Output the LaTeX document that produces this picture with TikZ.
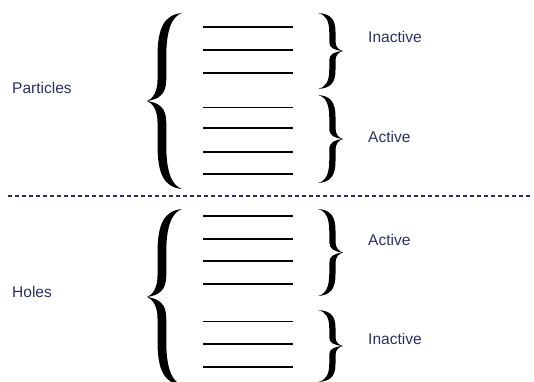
\documentclass[tikz,border=0pt]{standalone}
\usepackage{fontspec}
\setmainfont{Liberation Sans}
\definecolor{navy}{RGB}{40,50,98}
\newcommand\mybrace[4]{%
  \begin{scope}[shift={(#1,#2)},xscale=#3,yscale=#4]
  \fill (1,0) .. controls (0.5,0.01) and (0.3,0.08) .. (0.3,0.25) -- (0.3,0.38)
     .. controls (0.3,0.45) and (0.15,0.49) .. (0,0.5)
     .. controls (0.15,0.51) and (0.3,0.55) .. (0.3,0.62) -- (0.3,0.75)
     .. controls (0.3,0.92) and (0.5,0.99) .. (1,1)
     .. controls (0.7,0.98) and (0.55,0.9) .. (0.55,0.75) -- (0.55,0.62)
     .. controls (0.55,0.54) and (0.35,0.51) .. (0,0.5)
     .. controls (0.35,0.49) and (0.55,0.46) .. (0.55,0.38) -- (0.55,0.25)
     .. controls (0.55,0.1) and (0.7,0.02) .. (1,0) -- cycle;
  \end{scope}}
\tikzset{
  lvl/.style={line width=1.7pt},
  thinlvl/.style={line width=1pt},
  lab/.style={text=navy, font=\fontsize{15.5}{18}\selectfont, anchor=west, inner sep=0pt}
}
\begin{document}
\begin{tikzpicture}[x=1pt,y=-1pt]
\useasboundingbox (0,0) rectangle (534,381);
% big left braces
\mybrace{147}{13}{35}{176}
\mybrace{147}{209}{35}{176}
% right braces
\mybrace{343}{13}{-25}{76}
\mybrace{343}{95}{-25}{88}
\mybrace{343}{209}{-25}{87}
\mybrace{343}{310}{-25}{72}
% levels
\foreach \y in {27,50,73,128,152,174,216,239,261,284,344,367}
  \draw[lvl] (203,\y) -- (293,\y);
\draw[thinlvl] (203,107) -- (293,107);
\draw[thinlvl] (203,321) -- (293,321);
% dashed separator
\coordinate (dl) at (8,196);
\coordinate (dr) at (530,196);
\draw[navy, line width=1.8pt, dash pattern=on 4pt off 3pt] (dl) -- (dr);
% labels
\node[lab] (particles) at (12,88) {Particles};
\node[lab] (holes) at (12,292) {Holes};
\node[lab] (pinact) at (368,37) {Inactive};
\node[lab] (pact) at (368,137) {Active};
\node[lab] (hact) at (368,240) {Active};
\node[lab] (hinact) at (368,339) {Inactive};
\end{tikzpicture}
\end{document}
